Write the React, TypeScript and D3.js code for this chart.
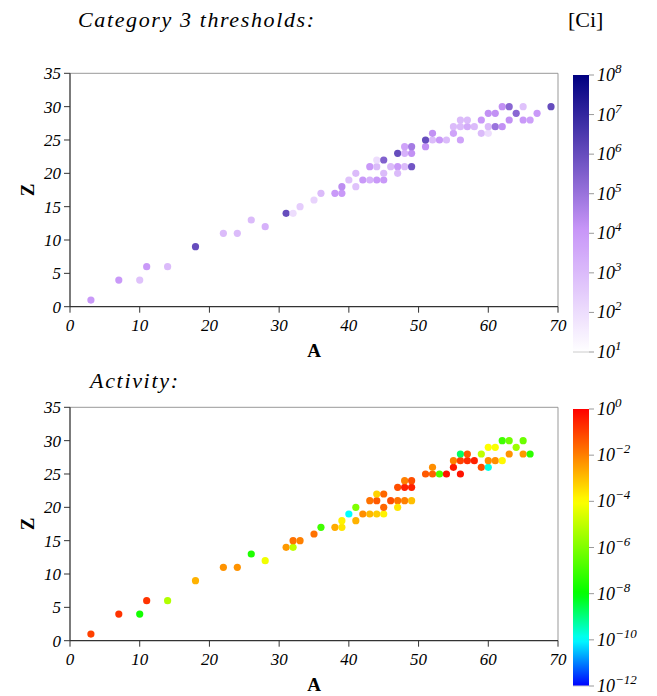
import { useMemo } from "react";
import * as d3 from "d3";

// nuclide mass number A, atomic number Z and value in each panel
const thrA = [3, 7, 10, 11, 14, 18, 22, 24, 26, 28, 31, 32, 33, 35, 36, 38, 39, 39, 40, 41, 41, 42, 43, 43, 44, 44, 44, 45, 45, 45, 46, 47, 47, 47, 48, 48, 48, 49, 49, 49, 51, 51, 52, 52, 53, 54, 55, 55, 56, 56, 56, 57, 57, 58, 59, 59, 60, 60, 60, 61, 61, 62, 62, 63, 63, 64, 65, 65, 66, 67, 69];
const thrZ = [1, 4, 4, 6, 6, 9, 11, 11, 13, 12, 14, 14, 15, 16, 17, 17, 17, 18, 19, 20, 18, 19, 19, 21, 19, 21, 22, 19, 20, 22, 21, 21, 20, 23, 21, 23, 24, 21, 23, 24, 24, 25, 25, 26, 25, 25, 26, 27, 25, 27, 28, 27, 28, 27, 26, 28, 26, 27, 29, 27, 29, 27, 30, 28, 30, 29, 28, 30, 28, 29, 30];
const thrCi = [1e4, 1e4, 6e2, 1e4, 1e3, 1e6, 1e3, 1e3, 1e3, 2e3, 1e6, 1e2, 3e2, 2e2, 1e3, 1e4, 1e4, 2e4, 6e2, 1e3, 6e2, 1e4, 2e3, 1e4, 1e4, 1e3, 1e2, 1e4, 1e3, 3e5, 1e3, 1e4, 1e3, 1e6, 1e3, 2e3, 5e3, 6e5, 1.6e4, 6e4, 1.6e4, 1e6, 1e3, 1.6e4, 1e4, 1e3, 5e3, 1e3, 5e3, 1e3, 1e3, 3e3, 1e3, 1e3, 1e3, 1e4, 1e2, 1e3, 1.6e4, 1e5, 1.6e4, 1.6e4, 1.6e4, 1.6e4, 2e5, 2e5, 1e4, 6e2, 6e3, 1e4, 1e6];

const actA = [3, 7, 10, 11, 14, 18, 22, 24, 26, 28, 31, 32, 32, 33, 35, 36, 38, 39, 39, 40, 41, 41, 42, 43, 43, 44, 44, 44, 45, 45, 45, 46, 47, 47, 47, 48, 48, 48, 49, 49, 49, 51, 52, 52, 53, 54, 55, 55, 56, 56, 56, 57, 57, 58, 59, 59, 60, 60, 60, 61, 61, 62, 62, 63, 63, 64, 65, 65, 66];
const actZ = [1, 4, 4, 6, 6, 9, 11, 11, 13, 12, 14, 14, 15, 15, 16, 17, 17, 17, 18, 19, 20, 18, 19, 19, 21, 19, 21, 22, 19, 20, 22, 21, 21, 20, 23, 21, 23, 24, 21, 23, 24, 25, 25, 26, 25, 25, 26, 27, 25, 27, 28, 27, 28, 27, 26, 28, 26, 27, 29, 27, 29, 27, 30, 28, 30, 29, 28, 30, 28];
const actVal = [1e-1, 1.6e-1, 2e-8, 1.6e-1, 6e-6, 1.6e-3, 5e-3, 5e-3, 3e-8, 6e-5, 4e-3, 1e-5, 1.6e-2, 1e-2, 1.6e-2, 1e-7, 2e-3, 2.5e-4, 1.6e-4, 1e-10, 1e-6, 1.6e-3, 6e-3, 1.3e-3, 1.6e-2, 6e-4, 4e-2, 5e-4, 1.6e-4, 2.5e-2, 2.5e-2, 6e-2, 1.6e-2, 2.5e-4, 6e-2, 1e-2, 3e-1, 1e-2, 1e-3, 3e-1, 6e-2, 4e-2, 3e-2, 6e-3, 1.6e-7, 5e-1, 4e-1, 1e-2, 5e-1, 1e-1, 1.6e-9, 2e-1, 4e-2, 3e-1, 6e-2, 1e-5, 1.6e-10, 6e-3, 1e-4, 6e-3, 8e-5, 1.3e-4, 1e-7, 5e-3, 6e-7, 3e-6, 4e-3, 5e-7, 5e-8];

const xTicks = [0, 10, 20, 30, 40, 50, 60, 70];
const yTicks = [0, 5, 10, 15, 20, 25, 30, 35];
const thrBarExp = [1, 2, 3, 4, 5, 6, 7, 8];
const actBarExp = [0, -2, -4, -6, -8, -10, -12];

const serif = "'Liberation Serif', 'DejaVu Serif', serif";

function Panel({ top, bottom, A, Z, vals, color }: any) {
  const x = d3.scaleLinear().domain([0, 70]).range([70, 558]);
  const y = d3.scaleLinear().domain([0, 35]).range([bottom, top]);
  return (
    <g>
      <line x1={70} x2={558} y1={top} y2={top} stroke="#999" />
      <line x1={558} x2={558} y1={top} y2={bottom} stroke="#999" />
      {A.map((a: number, i: number) => (
        <circle key={i} cx={x(a)} cy={y(Z[i])} r={3.6} fill={color(vals[i])} />
      ))}
      <line x1={70} x2={70} y1={top} y2={bottom} stroke="#333" strokeWidth={1.3} />
      <line x1={70} x2={558} y1={bottom} y2={bottom} stroke="#333" strokeWidth={1.3} />
      {yTicks.map((t) => (
        <g key={t}>
          <line x1={64} x2={70} y1={y(t)} y2={y(t)} stroke="#333" />
          <text x={61} y={y(t)} dy="0.35em" textAnchor="end" fontStyle="italic" fontSize={17} fontFamily={serif}>
            {t}
          </text>
        </g>
      ))}
      {xTicks.map((t) => (
        <g key={t}>
          <line x1={x(t)} x2={x(t)} y1={bottom} y2={bottom + 6} stroke="#333" />
          <text x={x(t)} y={bottom + 24} textAnchor="middle" fontStyle="italic" fontSize={17} fontFamily={serif}>
            {t}
          </text>
        </g>
      ))}
      <text x={314} y={bottom + 50} textAnchor="middle" fontWeight="bold" fontSize={19} fontFamily={serif}>
        A
      </text>
      <text
        transform={`translate(27, ${(top + bottom) / 2}) rotate(-90)`}
        textAnchor="middle"
        dy="0.35em"
        fontWeight="bold"
        fontSize={19}
        fontFamily={serif}
      >
        Z
      </text>
    </g>
  );
}

function ColorBar({ id, top, bottom, domain, color, exps }: any) {
  const y = d3.scaleLog().domain(domain).range([bottom, top]);
  const stops = d3.range(0, 1.0001, 0.02).map((f) => {
    const v = Math.pow(10, Math.log10(domain[1]) * (1 - f) + Math.log10(domain[0]) * f);
    return { off: f, c: color(v) };
  });
  return (
    <g>
      <defs>
        <linearGradient id={id} x1="0" y1="0" x2="0" y2="1">
          {stops.map((s, i) => (
            <stop key={i} offset={`${s.off * 100}%`} stopColor={s.c} />
          ))}
        </linearGradient>
      </defs>
      <rect x={573} y={top} width={16} height={bottom - top} fill={`url(#${id})`} />
      <line x1={573} x2={589} y1={bottom} y2={bottom} stroke="#ccc" />
      {exps.map((e: number) => {
        const ty = y(Math.pow(10, e));
        return (
          <g key={e}>
            <line x1={589} x2={594} y1={ty} y2={ty} stroke="#999" />
            <text x={597} y={ty + 6} fontStyle="italic" fontSize={18} fontFamily={serif}>
              10
              <tspan dy={-8} fontSize={13}>
                {e < 0 ? `\u2212${-e}` : e}
              </tspan>
            </text>
          </g>
        );
      })}
    </g>
  );
}

export default function App() {
  const thrColor = useMemo(
    () => d3.scaleLog<string>().domain([10, 1.2e4, 1e8]).range(["#ffffff", "#c896f8", "#000080"]).clamp(true),
    []
  );
  const actColor = useMemo(
    () =>
      d3
        .scaleLog<string>()
        .domain([1, 1e-4, 1e-8, 1e-10, 1e-12])
        .range(["#ff0000", "#ffff00", "#00ff00", "#00ffff", "#0000ff"])
        .clamp(true),
    []
  );

  return (
    <div style={{ position: "absolute", left: 0, top: 0 }}>
      <svg width={657} height={696} style={{ display: "block", background: "#fff" }}>
        <text x={78} y={27} fontStyle="italic" fontSize={22} fontFamily={serif} textLength={236}>
          Category 3 thresholds:
        </text>
        <text x={568} y={27} fontSize={22} fontFamily={serif}>
          [Ci]
        </text>
        <text x={90} y={388} fontStyle="italic" fontSize={22} fontFamily={serif} textLength={88}>
          Activity:
        </text>
        <Panel top={73.3} bottom={306.7} A={thrA} Z={thrZ} vals={thrCi} color={thrColor} />
        <Panel top={407.3} bottom={640.7} A={actA} Z={actZ} vals={actVal} color={actColor} />
        <ColorBar id="cb-thr" top={75} bottom={352} domain={[10, 1e8]} color={thrColor} exps={thrBarExp} />
        <ColorBar id="cb-act" top={409} bottom={686} domain={[1e-12, 1]} color={actColor} exps={actBarExp} />
      </svg>
    </div>
  );
}
